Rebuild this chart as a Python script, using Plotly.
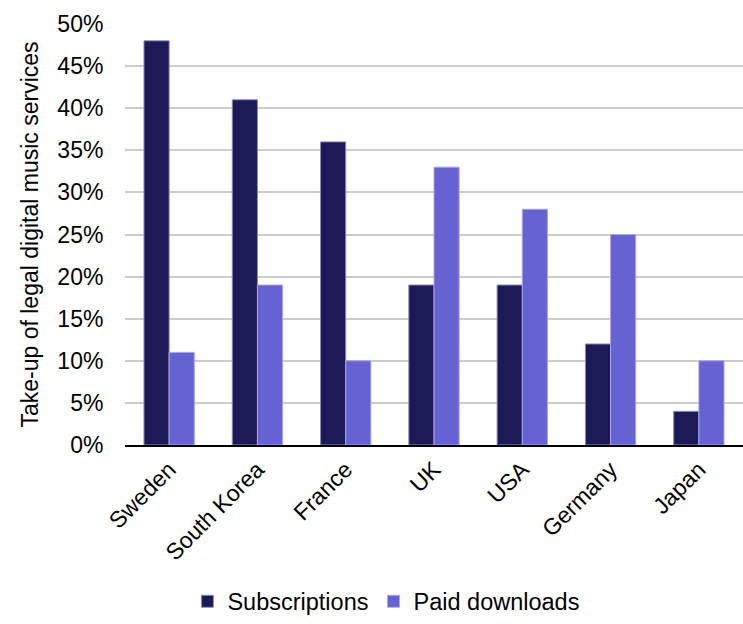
import plotly.graph_objects as go

countries = ["Sweden", "South Korea", "France", "UK", "USA", "Germany", "Japan"]
subscriptions = [0.48, 0.41, 0.36, 0.19, 0.19, 0.12, 0.04]
paid_downloads = [0.11, 0.19, 0.10, 0.33, 0.28, 0.25, 0.10]
tick_vals = [0, 0.05, 0.10, 0.15, 0.20, 0.25, 0.30, 0.35, 0.40, 0.45, 0.50]

fig = go.Figure()
fig.add_trace(go.Bar(x=countries, y=subscriptions, name="Subscriptions",
                     marker=dict(color="#1B1956", line=dict(color="#8C8AB8", width=1))))
fig.add_trace(go.Bar(x=countries, y=paid_downloads, name="Paid downloads",
                     marker=dict(color="#6762D1", line=dict(color="#A9A6EC", width=1))))

font = "Liberation Sans, Arial, sans-serif"
fig.update_layout(
    width=743, height=624,
    margin=dict(l=125, r=0, t=24, b=179),
    plot_bgcolor="white", paper_bgcolor="white",
    barmode="group", bargap=0.43, bargroupgap=0,
    font=dict(family=font, size=23, color="#000000"),
    legend=dict(orientation="h", x=0.423, xanchor="center",
                y=-0.424, yanchor="bottom",
                font=dict(size=23.5), itemwidth=30, traceorder="normal"),
    showlegend=True,
)
fig.update_yaxes(range=[0, 0.5], tickvals=tick_vals, tickformat=".0%",
                 showgrid=True, gridcolor="#CCCCCC", gridwidth=1.5,
                 zeroline=False, showline=False, ticks="outside", ticklen=16,
                 tickcolor="white", tickfont=dict(size=23), automargin=False,
                 title=dict(text="Take-up of legal digital music services", font=dict(size=23), standoff=12))
fig.update_xaxes(tickangle=-45, showline=True, linecolor="black", linewidth=2,
                 showgrid=False, tickfont=dict(size=23), ticks="",
                 automargin=False)

fig.write_html("out.html")
